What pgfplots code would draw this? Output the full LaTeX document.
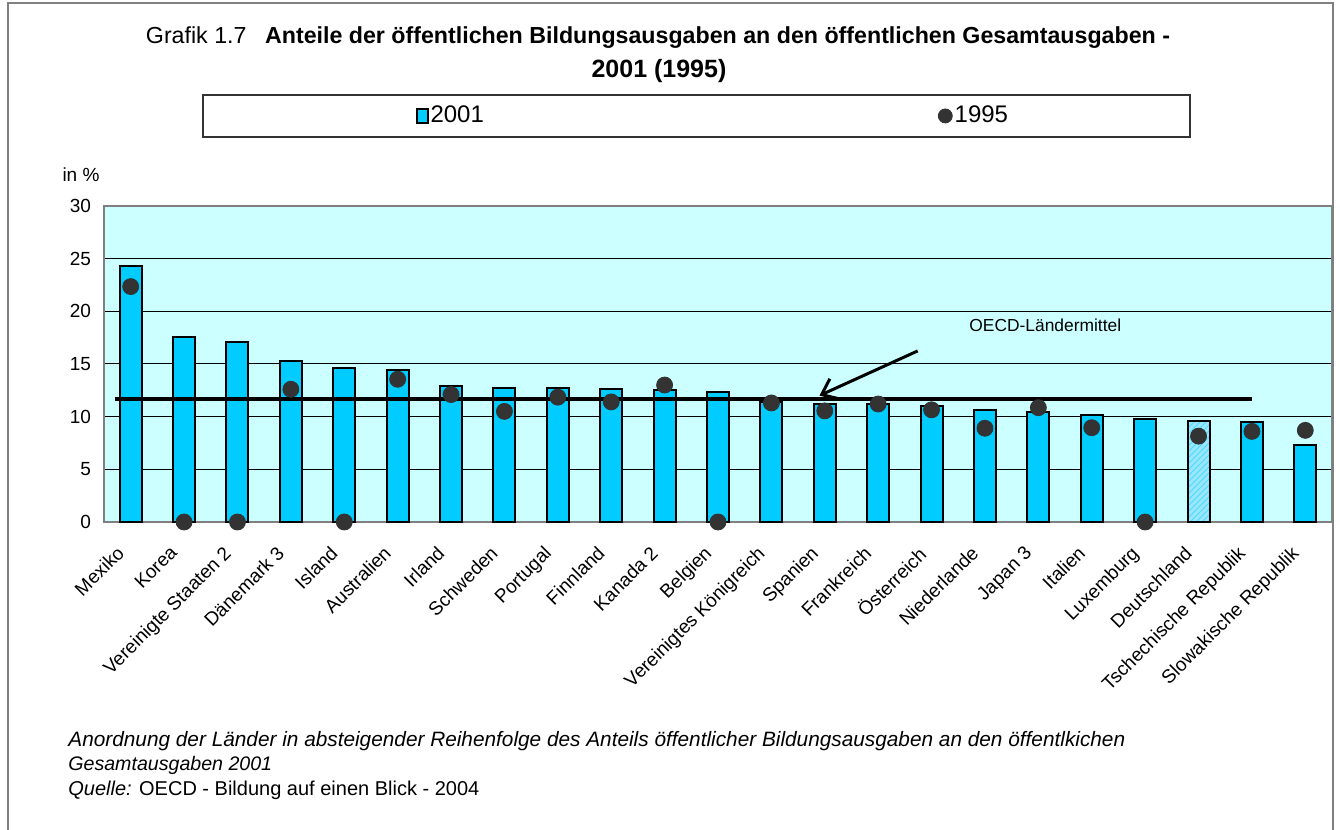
\documentclass[border=0pt]{standalone}
\usepackage{fontspec}
\setmainfont{Liberation Sans}
\usepackage{pgfplots}
\pgfplotsset{compat=1.18}
\usetikzlibrary{arrows.meta,patterns}

\definecolor{barblue}{HTML}{00CCFF}
\definecolor{barlight}{HTML}{99E6FF}
\definecolor{plotbg}{HTML}{CCFFFF}
\definecolor{dotgray}{HTML}{333333}
\definecolor{framegray}{HTML}{808080}

\begin{document}
\begin{tikzpicture}
  \useasboundingbox (0,0) rectangle (670pt,415pt);
  % outer frame
  \draw[framegray, line width=0.8pt] (4pt,0) -- (4pt,413.5pt) -- (666.5pt,413.5pt) -- (666.5pt,0);

  % title
  \node[font=\fontsize{11.6}{13}\selectfont] at (329pt,396pt)
    {Grafik 1.7\hspace{0.8em}\textbf{Anteile der öffentlichen Bildungsausgaben an den öffentlichen Gesamtausgaben -}};
  \node[font=\fontsize{12.5}{13}\selectfont\bfseries] at (329.5pt,379.5pt) {2001 (1995)};

  % legend box
  \draw[black!80, line width=0.6pt, fill=white] (101.5pt,346.5pt) rectangle (595pt,367.5pt);

  \node[font=\fontsize{9.5}{10}\selectfont] at (40.5pt,327.5pt) {in \%};

  \begin{axis}[
      at={(52pt,154pt)}, anchor=south west,
      width=614pt, height=158pt, scale only axis,
      xmin=-0.5, xmax=22.5, ymin=0, ymax=30,
      ytick={0,5,...,30},
      xtick={0,...,22},
      xticklabels={Mexiko, Korea, Vereinigte Staaten 2, Dänemark 3, Island,
        Australien, Irland, Schweden, Portugal, Finnland, Kanada 2, Belgien,
        Vereinigtes Königreich, Spanien, Frankreich, Österreich, Niederlande,
        Japan 3, Italien, Luxemburg, Deutschland, Tschechische Republik,
        Slowakische Republik},
      xticklabel style={xshift=-7.6pt, yshift=-9.7pt, rotate=45, anchor=north east,
        inner sep=1pt, font=\fontsize{9.5}{10}\selectfont},
      yticklabel style={font=\fontsize{9.5}{10}\selectfont, xshift=-3pt},
      /pgf/number format/assume math mode=true,
      major tick length=0pt,
      ymajorgrids, grid style={black, line width=0.5pt},
      axis line style={framegray, line width=0.8pt},
      axis background/.style={fill=plotbg},
      clip=false,
      legend columns=2,
      legend style={at={(0.254,1.285)}, anchor=west, draw=none, fill=none,
        inner sep=0pt, font=\fontsize{12}{13}\selectfont,
        nodes={inner sep=1pt},
        /tikz/every even column/.append style={column sep=226pt}},
    ]
    % 2001
    \addplot[ybar, bar width=11pt, bar shift=0pt, fill=barblue, draw=black, line width=1pt,
      legend image code/.code={\draw[fill=barblue, draw=black, line width=0.6pt] (0pt,-3.5pt) rectangle (5.5pt,3.5pt);}]
      coordinates {
        (0,24.3) (1,17.6) (2,17.1) (3,15.3) (4,14.6) (5,14.4) (6,12.9)
        (7,12.7) (8,12.7) (9,12.6) (10,12.5) (11,12.3) (12,11.4) (13,11.2)
        (14,11.2) (15,11.0) (16,10.6) (17,10.45) (18,10.2) (19,9.75)
        (21,9.5) (22,7.35)
      };
    \addlegendentry{2001}
    % Deutschland (hatched bar)
    \addplot[ybar, bar width=11pt, bar shift=0pt, fill=barlight, draw=black, line width=1pt, forget plot,
      postaction={pattern=north east lines, pattern color=barblue!70}]
      coordinates {(20,9.6)};
    % OECD mean
    \addplot[black, line width=2pt, forget plot] coordinates {(-0.3,11.7) (21,11.7)};
    % 1995
    \addplot[only marks, mark=*, mark size=4pt, color=dotgray,
      legend image code/.code={\fill[dotgray] (2.5pt,0pt) circle (3.5pt);}]
      coordinates {
        (0,22.35) (1,0) (2,0) (3,12.6) (4,0) (5,13.55) (6,12.1) (7,10.5)
        (8,11.85) (9,11.4) (10,13.0) (11,0) (12,11.3) (13,10.55) (14,11.2)
        (15,10.65) (16,8.9) (17,10.85) (18,8.95) (19,0) (20,8.15)
        (21,8.6) (22,8.7)
      };
    \addlegendentry{1995}

    \draw[black, line width=1.5pt, -{Straight Barb[length=7pt, width=11pt]}]
      (axis cs:14.74,16.24) -- (axis cs:12.9,12.0);
    \node[font=\fontsize{8.7}{10}\selectfont] at (axis cs:17.13,18.7) {OECD-Ländermittel};
  \end{axis}

  % notes
  \node[anchor=west, inner sep=0pt, font=\fontsize{10.4}{11}\selectfont\itshape] at (34pt,44.5pt)
    {Anordnung der Länder in absteigender Reihenfolge des Anteils öffentlicher Bildungsausgaben an den öffentlkichen};
  \node[anchor=west, inner sep=0pt, font=\fontsize{9.8}{11}\selectfont\itshape] at (34pt,32.5pt) {Gesamtausgaben 2001};
  \node[anchor=west, inner sep=0pt, font=\fontsize{10}{11}\selectfont] at (34pt,20pt) {\textit{Quelle:} OECD - Bildung auf einen Blick - 2004};
\end{tikzpicture}
\end{document}
